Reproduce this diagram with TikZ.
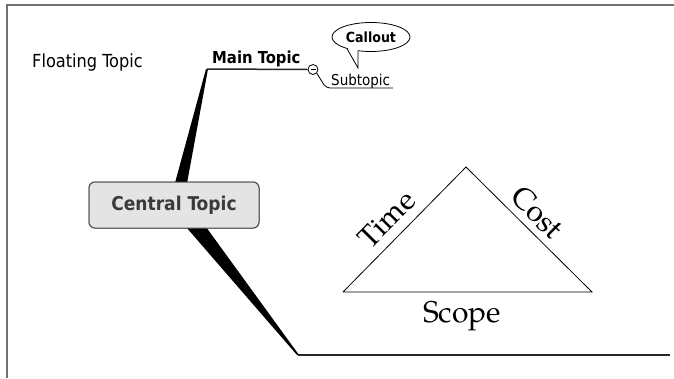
\documentclass[tikz,border=0pt]{standalone}
\usepackage{fontspec}
\newfontfamily\mapfont{DejaVu Sans Condensed}
\newfontfamily\pmfont{texgyrepagella-regular.otf}
\usetikzlibrary{positioning,shapes.geometric}
\definecolor{framegray}{HTML}{707070}
\definecolor{boxfill}{HTML}{E4E4E4}
\definecolor{boxline}{HTML}{505050}
\definecolor{inkgray}{HTML}{3A3A3A}

\begin{document}
\begin{tikzpicture}[x=1pt,y=-1pt,
  floattxt/.style={font=\mapfont\fontsize{18}{21}\selectfont,inner sep=0pt},
  maintxt/.style={font=\mapfont\bfseries\fontsize{16.5}{20}\selectfont,inner sep=0pt},
  subtxt/.style={font=\mapfont\fontsize{15}{18}\selectfont,inner sep=0pt},
  centralbox/.style={draw=boxline,fill=boxfill,rounded corners=6pt,line width=1pt,
    minimum width=170pt,minimum height=46pt,text=inkgray,
    font=\mapfont\bfseries\fontsize{19}{22}\selectfont},
  calloutbox/.style={ellipse,draw,fill=white,line width=0.8pt,minimum width=78pt,
    minimum height=29pt,inner sep=0pt,font=\mapfont\bfseries\fontsize{14}{16}\selectfont},
  toggle/.style={circle,draw,fill=white,line width=0.8pt,minimum size=10pt,inner sep=0pt},
  branch/.style={line width=1.5pt,draw=black!85},
  pmtxt/.style={font=\pmfont\fontsize{30}{34}\selectfont,inner sep=2pt},
  edge/.style={line width=0.8pt}
]
  \useasboundingbox (0,0) rectangle (674,378);
  \draw[framegray,line width=2pt] (7,378) -- (7,5) -- (674,5);

  % topics
  \coordinate (mainL) at (207,69);
  \coordinate (otherL) at (298,355);
  \coordinate (otherR) at (670,355);
  \node[toggle] (fold) at (313,69.5) {};
  \coordinate (subR) at (393,88);
  \node[centralbox] (central) at (174,205) {};

  % tapered branches behind the central topic
  \fill ([xshift=-5pt]central.center) -- ([xshift=-1pt]mainL) -- ([xshift=1pt]mainL)
    -- ([xshift=9pt]central.center) -- cycle;
  \fill ([xshift=-7pt]central.center) -- ([xshift=-1pt]otherL) -- ([xshift=1pt]otherL)
    -- ([xshift=16pt]central.center) -- cycle;
  \node[centralbox] at (central) {Central Topic};

  \draw[branch] (mainL) -- (fold.west);
  \draw[branch] (otherL) -- (otherR);
  \draw[edge,rounded corners=4pt] (fold.south east) -- (326,88) -- (subR);
  \draw[edge] ([xshift=-2.5pt]fold.center) -- ([xshift=2.5pt]fold.center);

  \node[maintxt,anchor=base west] (main) at (212,63) {Main Topic};
  \node[subtxt,anchor=base west] (sub) at (331,85) {Subtopic};
  \node[floattxt,anchor=base west] (float) at (32,67) {Floating Topic};

  % callout
  \node[calloutbox] (callout) at (371,37) {Callout};
  \coordinate (tip) at (358,68);
  \fill[white] (347,47) -- (tip) -- (358,48) -- cycle;
  \draw[edge] (347,48.6) -- (tip) -- (358,50.7);

  % triple constraint
  \coordinate (apex) at (466,167);
  \coordinate (lft) at (343,292);
  \coordinate (rgt) at (592,292);
  \draw[edge] (lft) -- node[pmtxt,sloped,above=7pt,pos=0.47] (time) {Time} (apex)
    -- node[pmtxt,sloped,above=5pt,pos=0.466] (cost) {Cost} (rgt)
    -- node[pmtxt,below=7pt,pos=0.522] (scope) {Scope} (lft);
\end{tikzpicture}
\end{document}
